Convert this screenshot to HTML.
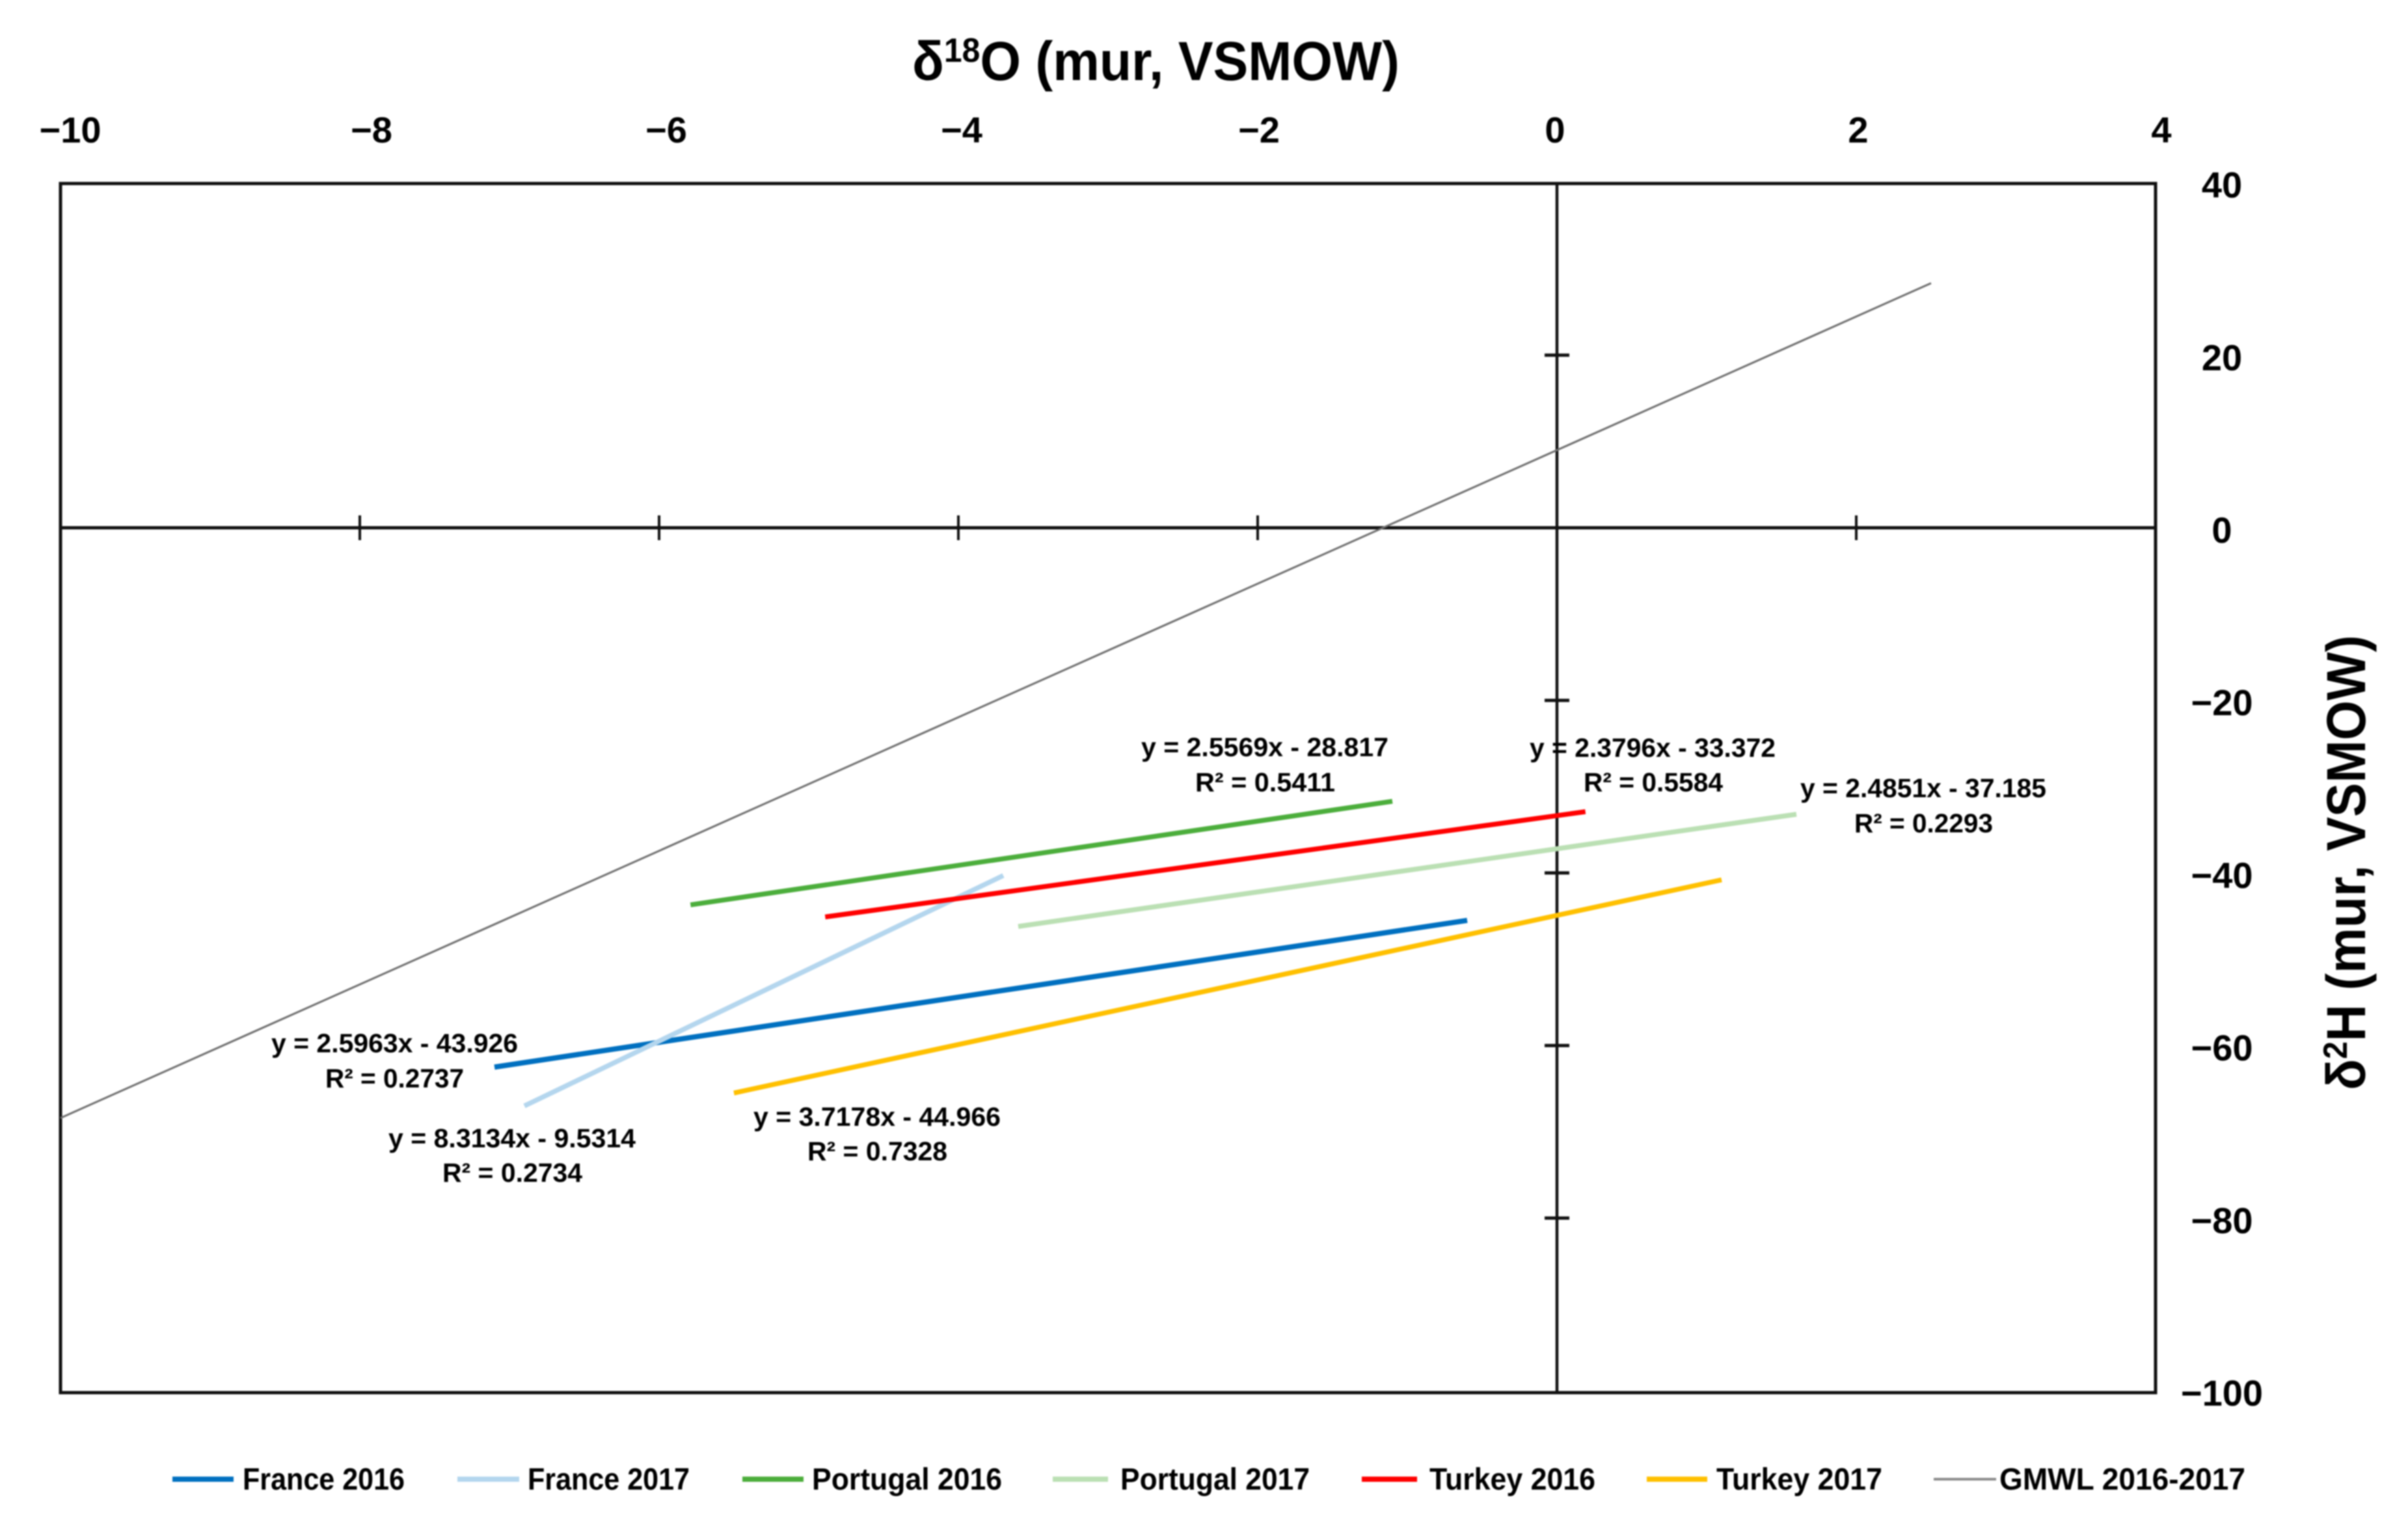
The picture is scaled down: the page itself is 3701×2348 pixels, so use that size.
<!DOCTYPE html>
<html lang="en">
<head>
<meta charset="utf-8">
<title>Isotope regression chart</title>
<style>
  html, body { margin: 0; padding: 0; background: #fff; }
  #chart { display: block; width: 3701px; height: 2348px; filter: blur(1px); }
  text { font-family: "Liberation Sans", "DejaVu Sans", sans-serif; font-weight: 700; fill: #000; }
  .tick-label { font-size: 56px; text-anchor: middle; }
  .eq { font-size: 41px; }
  .leg { font-size: 47px; }
  .title { font-size: 84px; }
  .sup { font-size: 52px; }
</style>
</head>
<body>
<svg id="chart" xmlns="http://www.w3.org/2000/svg" width="3701" height="2348" viewBox="0 0 3701 2348">
  <rect x="0" y="0" width="3701" height="2348" fill="#fff"/>
  <rect x="93" y="282" width="3220" height="1858" fill="none" stroke="#111" stroke-width="5"/>
  <g id="axes"></g>
  <g id="marks"></g>

  <text class="title" x="1402" y="123" textLength="749" lengthAdjust="spacingAndGlyphs">δ<tspan class="sup" dy="-28">18</tspan><tspan dy="28">O (mur, VSMOW)</tspan></text>
  <text class="title" transform="translate(3635 1675) rotate(-90)" x="0" y="0" textLength="699" lengthAdjust="spacingAndGlyphs">δ<tspan class="sup" dy="-28">2</tspan><tspan dy="28">H (mur, VSMOW)</tspan></text>

  <text class="eq" x="417" y="1617" textLength="379" lengthAdjust="spacingAndGlyphs">y = 2.5963x - 43.926</text>
  <text class="eq" x="500" y="1671" textLength="213" lengthAdjust="spacingAndGlyphs">R² = 0.2737</text>
  <text class="eq" x="597" y="1763" textLength="380" lengthAdjust="spacingAndGlyphs">y = 8.3134x - 9.5314</text>
  <text class="eq" x="680" y="1816" textLength="215" lengthAdjust="spacingAndGlyphs">R² = 0.2734</text>
  <text class="eq" x="1158" y="1730" textLength="380" lengthAdjust="spacingAndGlyphs">y = 3.7178x - 44.966</text>
  <text class="eq" x="1241" y="1783" textLength="215" lengthAdjust="spacingAndGlyphs">R² = 0.7328</text>
  <text class="eq" x="1754" y="1162" textLength="380" lengthAdjust="spacingAndGlyphs">y = 2.5569x - 28.817</text>
  <text class="eq" x="1837" y="1216" textLength="215" lengthAdjust="spacingAndGlyphs">R² = 0.5411</text>
  <text class="eq" x="2351" y="1163" textLength="378" lengthAdjust="spacingAndGlyphs">y = 2.3796x - 33.372</text>
  <text class="eq" x="2434" y="1216" textLength="214" lengthAdjust="spacingAndGlyphs">R² = 0.5584</text>
  <text class="eq" x="2767" y="1225" textLength="378" lengthAdjust="spacingAndGlyphs">y = 2.4851x - 37.185</text>
  <text class="eq" x="2850" y="1279" textLength="213" lengthAdjust="spacingAndGlyphs">R² = 0.2293</text>

  <g>
    <line x1="265" x2="359" y1="2273" y2="2273" stroke="#0070c0" stroke-width="8"/>
    <text class="leg" x="373" y="2289" textLength="249" lengthAdjust="spacingAndGlyphs">France 2016</text>
    <line x1="703" x2="798" y1="2273" y2="2273" stroke="#b4d6ee" stroke-width="8"/>
    <text class="leg" x="811" y="2289" textLength="249" lengthAdjust="spacingAndGlyphs">France 2017</text>
    <line x1="1141" x2="1235" y1="2273" y2="2273" stroke="#4cae3c" stroke-width="8"/>
    <text class="leg" x="1248" y="2289" textLength="292" lengthAdjust="spacingAndGlyphs">Portugal 2016</text>
    <line x1="1618" x2="1703" y1="2273" y2="2273" stroke="#bbe0b4" stroke-width="8"/>
    <text class="leg" x="1722" y="2289" textLength="291" lengthAdjust="spacingAndGlyphs">Portugal 2017</text>
    <line x1="2093" x2="2178" y1="2273" y2="2273" stroke="#ff0000" stroke-width="8"/>
    <text class="leg" x="2197" y="2289" textLength="255" lengthAdjust="spacingAndGlyphs">Turkey 2016</text>
    <line x1="2531" x2="2624" y1="2273" y2="2273" stroke="#ffc000" stroke-width="8"/>
    <text class="leg" x="2638" y="2289" textLength="255" lengthAdjust="spacingAndGlyphs">Turkey 2017</text>
    <line x1="2972" x2="3068" y1="2273" y2="2273" stroke="#8a8a8a" stroke-width="4"/>
    <text class="leg" x="3073" y="2289" textLength="378" lengthAdjust="spacingAndGlyphs">GMWL 2016-2017</text>
  </g>
</svg>

<script>
// Axis tick values and labels
const xTickValues = [-10, -8, -6, -4, -2, 0, 2, 4];
const xTickLabels = ['−10', '−8', '−6', '−4', '−2', '0', '2', '4'];
const yTickValues = [40, 20, 0, -20, -40, -60, -80, -100];
const yTickLabels = ['40', '20', '0', '−20', '−40', '−60', '−80', '−100'];

// Regression line end points (δ18O, δ2H)
const france2016X = [-7.1, -0.6];
const france2016Y = [-62.5, -45.5];
const france2017X = [-6.9, -3.7];
const france2017Y = [-67.0, -40.3];
const portugal2016X = [-5.79, -1.1];
const portugal2016Y = [-43.7, -31.7];
const portugal2017X = [-3.6, 1.6];
const portugal2017Y = [-46.2, -33.2];
const turkey2016X = [-4.89, 0.19];
const turkey2016Y = [-45.1, -32.9];
const turkey2017X = [-5.5, 1.1];
const turkey2017Y = [-65.5, -40.8];
const gmwlX = [-10, 2.5];
const gmwlY = [-68.4, 28.35];

// Axis functions
function xScale(v) { return 2393 + 230 * v; }
function yScale(v) { return 811 - 13.26 * v; }

const SVG_NS = 'http://www.w3.org/2000/svg';
const axes = document.getElementById('axes');
const marks = document.getElementById('marks');

function makeLine(parent, x1, y1, x2, y2, stroke, width) {
  const el = document.createElementNS(SVG_NS, 'line');
  el.setAttribute('x1', x1);
  el.setAttribute('y1', y1);
  el.setAttribute('x2', x2);
  el.setAttribute('y2', y2);
  el.setAttribute('stroke', stroke);
  el.setAttribute('stroke-width', width);
  parent.appendChild(el);
  return el;
}

function makeLabel(parent, x, y, str) {
  const el = document.createElementNS(SVG_NS, 'text');
  el.setAttribute('class', 'tick-label');
  el.setAttribute('x', x);
  el.setAttribute('y', y);
  el.textContent = str;
  parent.appendChild(el);
  return el;
}

// Zero axes
const xZeroAxis = makeLine(axes, xScale(-10), yScale(0), xScale(4), yScale(0), '#111', 5);


const yZeroAxis = makeLine(axes, xScale(0), 282, xScale(0), 2140, '#111', 4.5);



// Label offsets from their tick, as set in the original figure
const xLabelNudge = [15, 18, 11, 5, 2, -3, 3, 9];

xTickValues.forEach(function (v, i) {
  if (v !== -10 && v !== 0 && v !== 4) {
    const tick = makeLine(axes, xScale(v), yScale(0) - 19, xScale(v), yScale(0) + 19, '#111', 4);
    
    
  }
  const label = makeLabel(axes, xScale(v) + xLabelNudge[i], 219, xTickLabels[i]);
  
  
});

yTickValues.forEach(function (v, i) {
  if (v !== 40 && v !== 0 && v !== -100) {
    const tick = makeLine(axes, xScale(0) - 19, yScale(v), xScale(0) + 19, yScale(v), '#111', 5);
    
    
  }
  const label = makeLabel(axes, 3415, yScale(v) + 23, yTickLabels[i]);
  
  
});

// Series lines
const gmwlLine = makeLine(marks, xScale(gmwlX[0]), yScale(gmwlY[0]), xScale(gmwlX[1]), yScale(gmwlY[1]), '#6e6e6e', 3);



const france2016Line = makeLine(marks, xScale(france2016X[0]), yScale(france2016Y[0]), xScale(france2016X[1]), yScale(france2016Y[1]), '#0070c0', 8);



const france2017Line = makeLine(marks, xScale(france2017X[0]), yScale(france2017Y[0]), xScale(france2017X[1]), yScale(france2017Y[1]), '#b4d6ee', 7.5);



const portugal2016Line = makeLine(marks, xScale(portugal2016X[0]), yScale(portugal2016Y[0]), xScale(portugal2016X[1]), yScale(portugal2016Y[1]), '#4cae3c', 7.5);



const portugal2017Line = makeLine(marks, xScale(portugal2017X[0]), yScale(portugal2017Y[0]), xScale(portugal2017X[1]), yScale(portugal2017Y[1]), '#bbe0b4', 7.5);



const turkey2016Line = makeLine(marks, xScale(turkey2016X[0]), yScale(turkey2016Y[0]), xScale(turkey2016X[1]), yScale(turkey2016Y[1]), '#ff0000', 7.5);



const turkey2017Line = makeLine(marks, xScale(turkey2017X[0]), yScale(turkey2017Y[0]), xScale(turkey2017X[1]), yScale(turkey2017Y[1]), '#ffc000', 7.5);


</script>
</body>
</html>
